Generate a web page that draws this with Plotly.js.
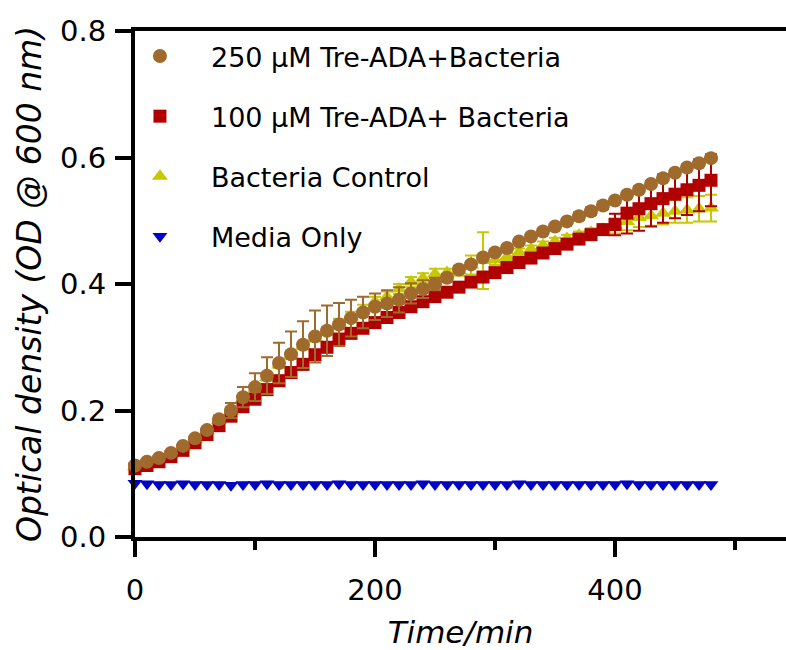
<!DOCTYPE html>
<html>
<head>
<meta charset="utf-8">
<script src="https://cdn.plot.ly/plotly-3.0.1.min.js"></script>
<style>html,body{margin:0;padding:0;background:#fff;}#chart{width:786px;height:650px;}</style>
</head>
<body>
<div id="chart"></div>
<script>
// Time points (min)
const timeMin = [0,10,20,30,40,50,60,70,80,90,100,110,120,130,140,150,160,170,180,190,200,210,220,230,240,250,260,270,280,290,300,310,320,330,340,350,360,370,380,390,400,410,420,430,440,450,460,470,480];

// 250 µM Tre-ADA + Bacteria
const tre250 = [0.113,0.119,0.125,0.133,0.144,0.156,0.169,0.186,0.200,0.221,0.237,0.255,0.275,0.289,0.304,0.317,0.326,0.336,0.346,0.355,0.364,0.369,0.375,0.385,0.392,0.400,0.410,0.423,0.431,0.442,0.450,0.457,0.467,0.475,0.483,0.491,0.499,0.507,0.515,0.524,0.532,0.541,0.549,0.558,0.567,0.576,0.584,0.591,0.599];
const tre250Err = [0.002,0.002,0.002,0.002,0.003,0.003,0.004,0.006,0.012,0.016,0.022,0.029,0.032,0.036,0.037,0.041,0.040,0.034,0.029,0.025,0.021,0.021,0.020,0.016,0.014,0.010,0.006,0.005,0.004,0.004,0.004,0.004,0.004,0.004,0.004,0.004,0.004,0.006,0.006,0.006,0.004,0.004,0.004,0.004,0.004,0.004,0.004,0.004,0.004];

// 100 µM Tre-ADA + Bacteria
const tre100 = [0.108,0.113,0.119,0.127,0.137,0.149,0.162,0.176,0.191,0.206,0.218,0.233,0.247,0.260,0.273,0.288,0.300,0.313,0.322,0.330,0.339,0.347,0.355,0.364,0.372,0.380,0.387,0.395,0.403,0.411,0.418,0.426,0.434,0.441,0.449,0.456,0.463,0.471,0.478,0.486,0.494,0.512,0.519,0.527,0.535,0.542,0.549,0.556,0.564];
const tre100Err = [0.004,0.004,0.004,0.004,0.004,0.004,0.004,0.005,0.006,0.008,0.008,0.008,0.008,0.008,0.008,0.008,0.008,0.006,0.006,0.006,0.006,0.006,0.006,0.006,0.006,0.006,0.006,0.006,0.006,0.006,0.006,0.005,0.005,0.005,0.005,0.005,0.005,0.005,0.005,0.005,0.017,0.032,0.035,0.036,0.038,0.038,0.040,0.041,0.041];

// Bacteria Control
const control = [0.111,0.117,0.123,0.131,0.142,0.154,0.168,0.184,0.199,0.218,0.234,0.252,0.272,0.287,0.302,0.315,0.326,0.337,0.348,0.359,0.372,0.380,0.392,0.403,0.409,0.416,0.418,0.421,0.430,0.437,0.438,0.443,0.450,0.455,0.461,0.467,0.472,0.477,0.482,0.487,0.492,0.499,0.505,0.508,0.512,0.515,0.517,0.519,0.520];
const controlErr = [0.003,0.003,0.003,0.003,0.003,0.003,0.003,0.003,0.004,0.005,0.005,0.005,0.005,0.005,0.005,0.006,0.006,0.008,0.008,0.008,0.008,0.008,0.008,0.008,0.008,0.008,0.006,0.008,0.015,0.045,0.008,0.006,0.006,0.006,0.006,0.006,0.006,0.006,0.006,0.006,0.012,0.014,0.015,0.016,0.018,0.018,0.020,0.020,0.021];

// Media Only
const media = [0.085,0.084,0.083,0.083,0.084,0.083,0.083,0.083,0.082,0.083,0.083,0.084,0.083,0.083,0.083,0.083,0.083,0.084,0.083,0.083,0.083,0.083,0.083,0.083,0.084,0.083,0.083,0.083,0.083,0.083,0.083,0.083,0.084,0.083,0.083,0.083,0.083,0.083,0.083,0.083,0.083,0.084,0.083,0.083,0.083,0.083,0.083,0.083,0.083];

const seriesNames = ['250 µM Tre-ADA+Bacteria','100 µM Tre-ADA+ Bacteria','Bacteria Control','Media Only'];
const xTickVals = [0,200,400];
const yTickVals = [0.0,0.2,0.4,0.6,0.8];

const FONT = 'DejaVu Sans, Liberation Sans, Arial, sans-serif';

function errTrace(name, y, err, color, symbol, size, group, rank) {
  const t = {
    type: 'scatter', mode: 'markers', name: name, x: timeMin, y: y,
    legendgroup: group, legendrank: rank, cliponaxis: false,
    marker: {symbol: symbol, size: size, color: color, line: {width: 0}},
    hoverinfo: 'x+y'
  };
  if (err) {
    t.error_y = {type: 'data', array: err, symmetric: true, visible: true, color: color, thickness: 2, width: 6};
  }
  return t;
}

const traces = [
  errTrace(seriesNames[3], media, null, '#0000C8', 'triangle-down', 13, 'd', 4),
  errTrace(seriesNames[2], control, controlErr, '#C8C800', 'triangle-up', 14, 'c', 3),
  errTrace(seriesNames[1], tre100, tre100Err, '#B00000', 'square', 13, 'b', 2),
  errTrace(seriesNames[0], tre250, tre250Err, '#A06A2C', 'circle', 14, 'a', 1)
];

const layout = {
  width: 786, height: 650,
  margin: {l: 135, r: 0, t: 31, b: 113, pad: 0},
  paper_bgcolor: '#ffffff', plot_bgcolor: '#ffffff',
  font: {family: FONT, color: '#000000'},
  showlegend: true,
  legend: {
    x: -0.04, y: 0.998, xanchor: 'left', yanchor: 'top',
    traceorder: 'grouped', tracegroupgap: 22,
    font: {family: FONT, size: 27, color: '#000'},
    bgcolor: 'rgba(0,0,0,0)', itemwidth: 92
  },
  xaxis: {
    range: [0, 542.5], showline: true, linewidth: 4, linecolor: '#000', mirror: true,
    ticks: 'outside', ticklen: 16, tickwidth: 4, tickcolor: '#000',
    tickmode: 'array', tickvals: xTickVals, ticktext: xTickVals.map(String),
    minor: {tickmode: 'linear', tick0: 0, dtick: 100, ticks: 'outside', ticklen: 9, tickwidth: 4, tickcolor: '#000', showgrid: false},
    showgrid: false, zeroline: false, ticklabelstandoff: 8,
    tickfont: {family: FONT, size: 29, color: '#000'},
    title: {text: 'Time/min', font: {family: FONT, size: 31, style: 'italic', color: '#000'}, standoff: 30}
  },
  yaxis: {
    range: [0, 0.8], showline: true, linewidth: 4, linecolor: '#000', mirror: false,
    ticks: 'outside', ticklen: 16, tickwidth: 4, tickcolor: '#000',
    tickmode: 'array', tickvals: yTickVals, ticktext: yTickVals.map(v => v.toFixed(1)),
    showgrid: false, zeroline: false, ticklabelstandoff: 3,
    tickfont: {family: FONT, size: 29, color: '#000'},
    title: {text: 'Optical density (OD @ 600 nm)', font: {family: FONT, size: 33, style: 'italic', color: '#000'}, standoff: 10}
  }
};

Plotly.newPlot('chart', traces, layout, {displayModeBar: false, staticPlot: true});
</script>
</body>
</html>
